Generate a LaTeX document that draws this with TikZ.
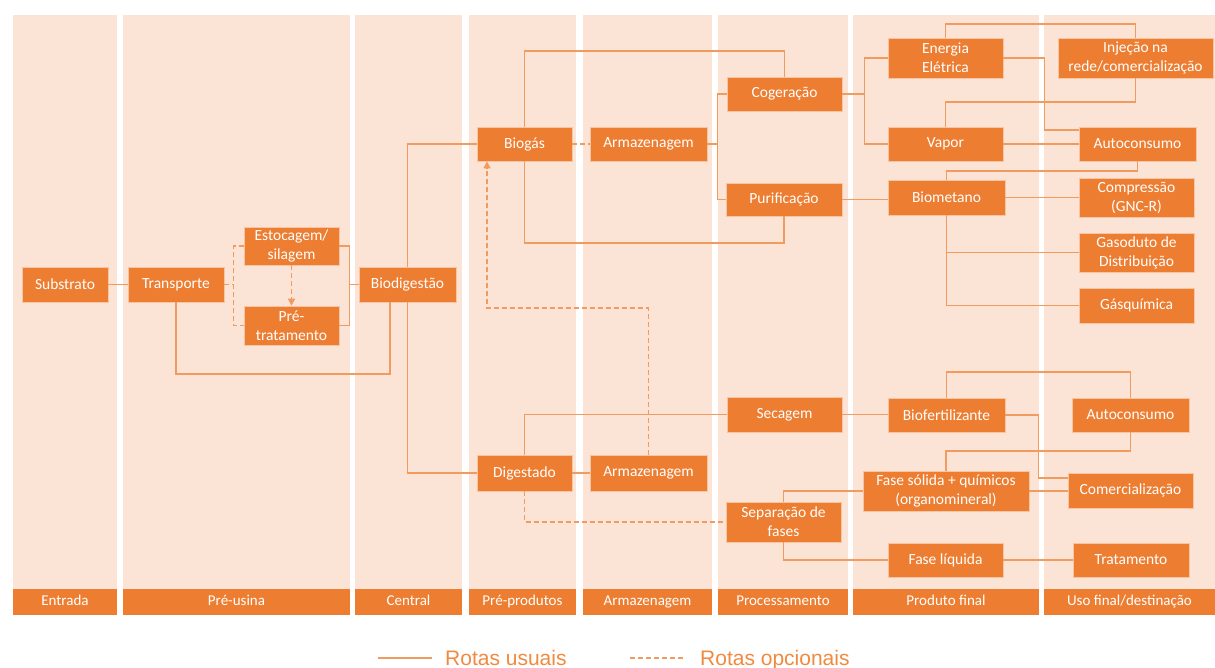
\documentclass[tikz,border=0pt]{standalone}
\usepackage{fontspec}
\setmainfont{Carlito}
\newfontfamily\legendfont{Liberation Sans}
\usetikzlibrary{arrows.meta}
\definecolor{boxorange}{HTML}{ED7D31}
\definecolor{bgpeach}{HTML}{FBE3D6}
\definecolor{routeline}{HTML}{F29B5E}
\definecolor{legendtxt}{HTML}{F08A3E}
\begin{document}
\begin{tikzpicture}[x=1pt,y=-1pt,
  box/.style={fill=boxorange, draw=boxorange!45!white, line width=0.6pt, text=white,
    inner sep=0pt, align=center, font=\fontsize{15.5}{19}\selectfont},
  colbar/.style={fill=boxorange, text=white, inner sep=0pt, minimum height=26pt,
    text height=10.5pt, text depth=3.5pt, font=\fontsize{15}{18}\selectfont},
  route/.style={draw=routeline, line width=1.4pt},
  optroute/.style={route, dash pattern=on 5pt off 3pt},
  tip/.style={-{Triangle[length=7pt,width=7pt]}}]
\useasboundingbox (0,0) rectangle (1215,667);
%\draw [lightgray](0,0) grid (1215,667);

% colunas
\fill [bgpeach] (13,15) rectangle (117,589);
\fill [bgpeach] (123,15) rectangle (350,589);
\fill [bgpeach] (355,15) rectangle (462,589);
\fill [bgpeach] (469,15) rectangle (576,589);
\fill [bgpeach] (583,15) rectangle (712,589);
\fill [bgpeach] (718,15) rectangle (848,589);
\fill [bgpeach] (853,15) rectangle (1039,589);
\fill [bgpeach] (1044,15) rectangle (1215,589);

\node [colbar, minimum width=104pt] (entrada) at (65,602) {Entrada};
\node [colbar, minimum width=227pt] (preusina) at (236.5,602) {Pré-usina};
\node [colbar, minimum width=107pt] (central) at (408.5,602) {Central};
\node [colbar, minimum width=107pt] (preprod) at (522.5,602) {Pré-produtos};
\node [colbar, minimum width=129pt] (armazcol) at (647.5,602) {Armazenagem};
\node [colbar, minimum width=130pt] (process) at (783,602) {Processamento};
\node [colbar, minimum width=186pt] (prodfinal) at (946,602) {Produto final};
\node [colbar, minimum width=171pt] (usofinal) at (1129.5,602) {Uso final/destinação};

% caixas
\node [box, minimum width=86pt, minimum height=35pt] (substrato) at (65,284.5) {Substrato};
\node [box, minimum width=96pt, minimum height=35pt] (transporte) at (176,284.5) {Transporte};
\node [box, minimum width=95pt, minimum height=38pt] (estocagem) at (291.5,246) {Estocagem/\\silagem};
\node [box, minimum width=95pt, minimum height=39pt] (pretrat) at (291.5,325.5) {Pré-\\tratamento};
\node [box, minimum width=97pt, minimum height=35pt] (biodig) at (407.5,284.5) {Biodigestão};

\node [box, minimum width=95pt, minimum height=34pt] (biogas) at (524.5,144) {Biogás};
\node [box, minimum width=117pt, minimum height=34pt] (armazA) at (648.5,144) {Armazenagem};
\node [box, minimum width=115pt, minimum height=34pt] (cogeracao) at (784.5,94) {Cogeração};
\node [box, minimum width=116pt, minimum height=33pt] (purificacao) at (784,199.5) {Purificação};

\node [box, minimum width=115pt, minimum height=40pt] (energia) at (945.5,58) {Energia\\Elétrica};
\node [box, minimum width=155pt, minimum height=40pt] (injecao) at (1135.5,58) {Injeção na\\rede/comercialização};
\node [box, minimum width=115pt, minimum height=34pt] (vapor) at (945.5,144) {Vapor};
\node [box, minimum width=117pt, minimum height=34pt] (autoconsA) at (1137.5,144) {Autoconsumo};
\node [box, minimum width=117pt, minimum height=35pt] (biometano) at (946.5,197.5) {Biometano};
\node [box, minimum width=115pt, minimum height=39pt] (compressao) at (1136.5,197.5) {Compressão\\(GNC-R)};
\node [box, minimum width=115pt, minimum height=39pt] (gasoduto) at (1136.5,252.5) {Gasoduto de\\Distribuição};
\node [box, minimum width=115pt, minimum height=35pt] (gasquimica) at (1136.5,305.5) {Gásquímica};

\node [box, minimum width=95pt, minimum height=36pt] (digestado) at (524.5,473) {Digestado};
\node [box, minimum width=117pt, minimum height=36pt] (armazB) at (648.5,473) {Armazenagem};
\node [box, minimum width=115pt, minimum height=35pt] (secagem) at (784.5,414.5) {Secagem};
\node [box, minimum width=115pt, minimum height=40pt] (separacao) at (783.5,522) {Separação de\\fases};

\node [box, minimum width=117pt, minimum height=34pt] (biofert) at (946.5,415) {Biofertilizante};
\node [box, minimum width=117pt, minimum height=34pt] (autoconsB) at (1130.5,415) {Autoconsumo};
\node [box, minimum width=166pt, minimum height=40pt] (fasesolida) at (946,491) {Fase sólida + químicos\\(organomineral)};
\node [box, minimum width=125pt, minimum height=35pt] (comerc) at (1130.5,490.5) {Comercialização};
\node [box, minimum width=115pt, minimum height=34pt] (faseliq) at (945.5,560) {Fase líquida};
\node [box, minimum width=116pt, minimum height=34pt] (tratamento) at (1131,560) {Tratamento};

% rotas: entrada e pré-usina
\draw [route] (substrato.east) -- (transporte.west);
\draw [optroute] (transporte.east) -- ++(10,0);
\draw [optroute] (estocagem.west) -- ++(-10,0) |- (pretrat.west);
\draw [optroute, tip] (estocagem.south) -- (pretrat.north);
\draw [route] (estocagem.east) -- ++(10,0) |- (pretrat.east);
\draw [route] (biodig.west) -- ++(-10,0);
\draw [route] (transporte.south) -- (transporte.south |- 0,374) -| ([xshift=-17.5pt]biodig.south);

% rotas: central e pré-produtos
\draw [route] (biogas.west) -| (biodig.north);
\draw [route] (digestado.west) -| (biodig.south);
\draw [optroute] (biogas.east) -- (armazA.west);
\draw [route] (armazA.east) -- ++(10,0) |- (cogeracao.west);
\draw [route] (armazA.east) -- ++(10,0) |- (purificacao.west);
\draw [route] (biogas.north) -- (biogas.north |- 0,51) -| (cogeracao.north);
\draw [route] (biogas.south) -- (biogas.south |- 0,243) -| (purificacao.south);
\draw [optroute, tip] (armazB.north) -- (armazB.north |- 0,308) -| ([xshift=-37.5pt]biogas.south);

% rotas: biogás
\draw [route] (cogeracao.east) -- ++(23,0);
\draw [route] (energia.west) -- ++(-23,0) |- (vapor.west);
\draw [route] (energia.north) -- (energia.north |- 0,24) -| (injecao.north);
\draw [route] (injecao.south) -- (injecao.south |- 0,102) -| (vapor.north);
\draw [route] (energia.east) -| ([xshift=-34pt,yshift=14pt]autoconsA.west) -- ([yshift=14pt]autoconsA.west);
\draw [route] (vapor.east) -- (autoconsA.west);
\draw [route] (autoconsA.south) -- (autoconsA.south |- 0,171) -| (biometano.north);
\draw [route] (purificacao.east) -- (purificacao.east -| biometano.west);
\draw [route] (biometano.east) -- (biometano.east -| compressao.west);
\draw [route] (biometano.south) |- (gasoduto.west);
\draw [route] (biometano.south) |- (gasquimica.west);

% rotas: digestado
\draw [route] (digestado.east) -- (armazB.west);
\draw [route] (digestado.north) |- (secagem.west);
\draw [optroute] (digestado.south) |- (separacao.west);
\draw [route] (secagem.east) -- (secagem.east -| biofert.west);
\draw [route] (separacao.north) |- (fasesolida.west);
\draw [route] (separacao.south) |- (faseliq.west);
\draw [route] (biofert.north) -- (biofert.north |- 0,372) -| (autoconsB.north);
\draw [route] (autoconsB.south) -- (autoconsB.south |- 0,451) -| (fasesolida.north);
\draw [route] (biofert.east) -| ([xshift=-29pt,yshift=12.5pt]comerc.west) -- ([yshift=12.5pt]comerc.west);
\draw [route] (fasesolida.east) -- (fasesolida.east -| comerc.west);
\draw [route] (faseliq.east) -- (tratamento.west);

% legenda
\coordinate (usualstart) at (378,658);
\coordinate (optstart) at (630,658);
\node [anchor=base west, inner sep=0pt, text=legendtxt, font=\legendfont\fontsize{21}{24}\selectfont] (usual) at (445,665) {Rotas usuais};
\node [anchor=base west, inner sep=0pt, text=legendtxt, font=\legendfont\fontsize{21}{24}\selectfont] (opcional) at (700,665) {Rotas opcionais};
\draw [route] (usualstart) -- (usualstart -| 432,0);
\draw [optroute] (optstart) -- (optstart -| 685,0);
\end{tikzpicture}
\end{document}
